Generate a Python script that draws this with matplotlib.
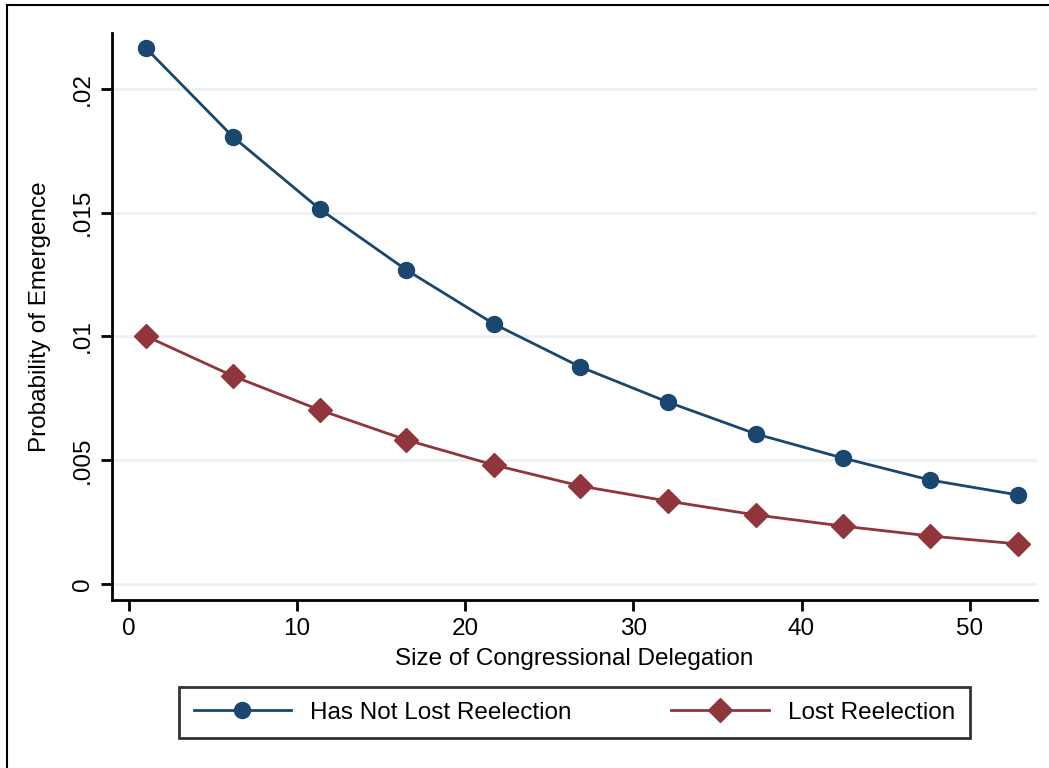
import numpy as np
import matplotlib.pyplot as plt
from matplotlib.lines import Line2D

plt.rcParams['font.family'] = ['Liberation Sans', 'DejaVu Sans']

# Tamaño de la delegación
delegacion = [1, 6.2, 11.35, 16.5, 21.7, 26.85, 32.05, 37.3, 42.45, 47.65, 52.85]
no_perdio = [0.02166, 0.01806, 0.01515, 0.01269, 0.01051, 0.00877,
             0.00735, 0.00606, 0.00509, 0.00420, 0.00360]
perdio = [0.01002, 0.00840, 0.00703, 0.00582, 0.00481, 0.00396,
          0.00335, 0.00279, 0.00234, 0.00194, 0.00162]

azul = '#1a476f'
rojo = '#90353b'
fs = 17.5

fig = plt.figure(figsize=(10.49, 7.68), dpi=100)
ax = fig.add_axes([112/1049, 168/768, 925/1049, 567/768])

ax.plot(delegacion, no_perdio, color=azul, lw=2, marker='o', ms=11.5,
        label='Has Not Lost Reelection')
ax.plot(delegacion, perdio, color=rojo, lw=2, marker='D', ms=12,
        label='Lost Reelection')

ax.set_xlim(-1.0, 54.0)
ax.set_ylim(-0.000646, 0.02226)
ax.set_xticks([0, 10, 20, 30, 40, 50])
yt = [0, 0.005, 0.01, 0.015, 0.02]
ax.set_yticks(yt)
ax.set_yticklabels(['0', '.005', '.01', '.015', '.02'], rotation=90, va='center')
for v in yt:
    ax.axhline(v, color='#eaf2f3', lw=2, zorder=0)

for s in ['top', 'right']:
    ax.spines[s].set_visible(False)
for s in ['left', 'bottom']:
    ax.spines[s].set_linewidth(2)
ax.tick_params(labelsize=fs, width=2, length=8, direction='out', pad=5)

ax.set_xlabel('Size of Congressional Delegation', fontsize=fs, labelpad=6)
ax.set_ylabel('Probability of Emergence', fontsize=fs, labelpad=15)

leg = ax.legend(loc='upper center', bbox_to_anchor=(0.5, -0.132), ncol=2,
                fontsize=fs, frameon=True, fancybox=False, handlelength=4.0,
                columnspacing=4.1, borderpad=0.6, edgecolor='black')
leg.get_frame().set_linewidth(2)

# marco exterior
fig.add_artist(Line2D([7/1049, 1], [1-5/768, 1-5/768], color='black', lw=1.5))
fig.add_artist(Line2D([7/1049, 7/1049], [0, 1-5/768], color='black', lw=1.5))

fig.savefig('out.png', dpi=100)
